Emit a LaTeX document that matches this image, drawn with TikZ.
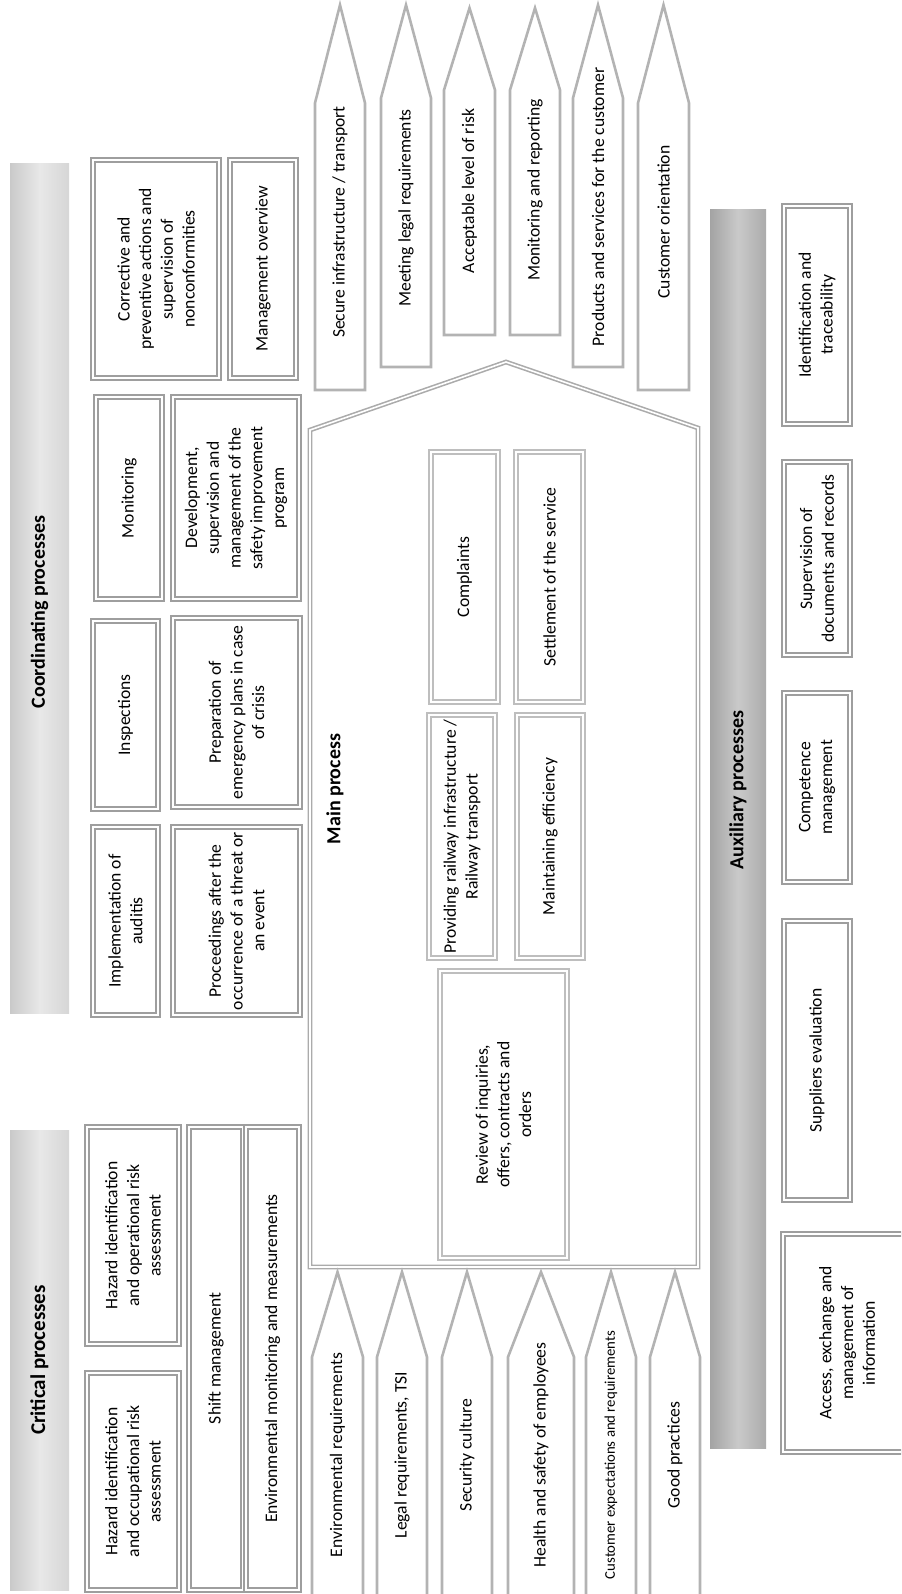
\documentclass[tikz,border=0pt]{standalone}
\usepackage{fontspec}
\setmainfont{Carlito}

\definecolor{boxgray}{HTML}{9E9E9E}
\definecolor{boxlight}{HTML}{BEBEBE}
\definecolor{arrowgray}{HTML}{B3B3B3}
\definecolor{housegray}{HTML}{ABABAB}

\newcommand\boxfont{\fontsize{8.8pt}{10.85pt}\selectfont}
\newcommand\smallboxfont{\fontsize{7.4pt}{9pt}\selectfont}
\newcommand\barfont{\fontsize{10pt}{12pt}\selectfont\bfseries}
\newcommand\bigbarfont{\fontsize{10.5pt}{12pt}\selectfont\bfseries}

\tikzset{
  procbox/.style={draw=boxgray, line width=1pt, double=white, double distance=0.9pt},
  mainbox/.style={draw=boxlight, line width=1pt, double=white, double distance=0.9pt},
  housebox/.style={draw=housegray, line width=0.8pt, double=white, double distance=0.8pt},
  flowarrow/.style={draw=arrowgray, line width=1.3pt, line join=miter},
  boxtext/.style={rotate=90, align=center, font=\boxfont, inner sep=0pt},
  bartitle/.style={rotate=90, font=\barfont, inner sep=0pt},
  lightbar/.style={left color=gray!42, right color=gray!32, middle color=gray!18},
  darkbar/.style={left color=gray!72, right color=gray!66, middle color=gray!42}
}

\begin{document}
\begin{tikzpicture}[x=0.5pt, y=-0.5pt]
  \useasboundingbox (0,0) rectangle (901,1594);
  \clip (0,0) rectangle (901,1594);

  % process bars
  \shade[lightbar] (10,1130) rectangle (69,1590);
  \node[bartitle, font=\bigbarfont] (crit) at (39.5,1360) {Critical processes};
  \shade[lightbar] (10,164) rectangle (69,1013);
  \node[bartitle] (coord) at (39.5,612) {Coordinating processes};
  \shade[darkbar] (710,210) rectangle (766,1448);
  \node[bartitle] (aux) at (738,790) {Auxiliary processes};

  % critical and coordinating boxes
  \foreach \nm/\xa/\ya/\xb/\yb/\txt in {
      hazocc/87/1373/179/1590/{Hazard identification\\and occupational risk\\assessment},
      hazop/87/1127/179/1344/{Hazard identification\\and operational risk\\assessment},
      shift/189/1127/243/1590/{Shift management},
      envmon/246/1127/299/1590/{Environmental monitoring and measurements},
      audit/93/827/158/1015/{Implementation of\\auditis},
      insp/93/621/158/809/{Inspections},
      monit/96/397/162/599/{Monitoring},
      corr/93/160/219/378/{Corrective and\\preventive actions and\\supervision of\\nonconformities},
      mgmt/230/160/296/378/{Management overview},
      proceed/173/827/300/1015/{Proceedings after the\\occurrence of a threat or\\an event},
      prep/173/618/300/807/{Preparation of\\emergency plans in case\\of crisis},
      dev/173/397/299/599/{Development,\\supervision and\\management of the\\safety improvement\\program}}{
    \draw[procbox] (\xa,\ya) rectangle (\xb,\yb);
    \node[boxtext] (\nm) at ({(\xa+\xb)/2},{(\ya+\yb)/2}) {\txt};
  }

  % main process
  \draw[housebox] (310,1267) -- (310,430) -- (506,362) -- (698,428) -- (698,1267) -- cycle;
  \node[bartitle] (main) at (335,789) {Main process};
  \foreach \nm/\xa/\ya/\xb/\yb/\txt in {
      review/440/971/567/1258/{Review of inquiries,\\offers, contracts and\\orders},
      provide/429/715/495/958/{Providing railway infrastructure /\\Railway transport},
      maint/517/715/583/958/{Maintaining efficiency},
      compl/431/452/498/702/{Complaints},
      settle/516/452/583/702/{Settlement of the service}}{
    \draw[mainbox] (\xa,\ya) rectangle (\xb,\yb);
    \node[boxtext] (\nm) at ({(\xa+\xb)/2},{(\ya+\yb)/2}) {\txt};
  }

  % auxiliary boxes
  \foreach \nm/\xa/\ya/\xb/\yb/\txt in {
      ident/784/206/850/424/{Identification and\\traceability},
      superv/784/462/850/655/{Supervision of\\documents and records},
      compet/784/693/850/882/{Competence\\management},
      suppl/784/921/850/1200/{Suppliers evaluation},
      access/783/1234/911/1452/{Access, exchange and\\management of\\information}}{
    \draw[procbox] (\xa,\ya) rectangle (\xb,\yb);
    \node[boxtext] (\nm) at ({(\xa+\xb)/2},{(\ya+\yb)/2}) {\txt};
  }

  % outputs
  \foreach \xa/\xb/\sh/\bt/\ty/\ct/\txt [count=\i] in {
      315/365/103/390/5/222/{Secure infrastructure / transport},
      381/431/98/367/5/208/{Meeting legal requirements},
      444/495/90/335/8/191/{Acceptable level of risk},
      510/560/90/335/8/190/{Monitoring and reporting},
      573/623/98/367/5/207/{Products and services for the customer},
      638/689/103/390/5/222/{Customer orientation}}{
    \draw[flowarrow] (\xa,\bt) -- (\xa,\sh) -- ({(\xa+\xb)/2},\ty) -- (\xb,\sh) -- (\xb,\bt) -- cycle;
    \node[boxtext] (out\i) at ({(\xa+\xb)/2},\ct) {\txt};
  }

  % inputs
  \foreach \xa/\xb/\fnt/\txt [count=\i] in {
      312/363/\boxfont/{Environmental requirements},
      377/427/\boxfont/{Legal requirements, TSI},
      442/492/\boxfont/{Security culture},
      508/574/\boxfont/{Health and safety of employees},
      586/636/\smallboxfont/{Customer expectations and requirements},
      650/700/\boxfont/{Good practices}}{
    \draw[flowarrow] (\xa,1620) -- (\xa,1357) -- ({(\xa+\xb)/2},1272) -- (\xb,1357) -- (\xb,1620);
    \node[boxtext, font=\fnt] (in\i) at ({(\xa+\xb)/2},1455) {\txt};
  }
\end{tikzpicture}
\end{document}
